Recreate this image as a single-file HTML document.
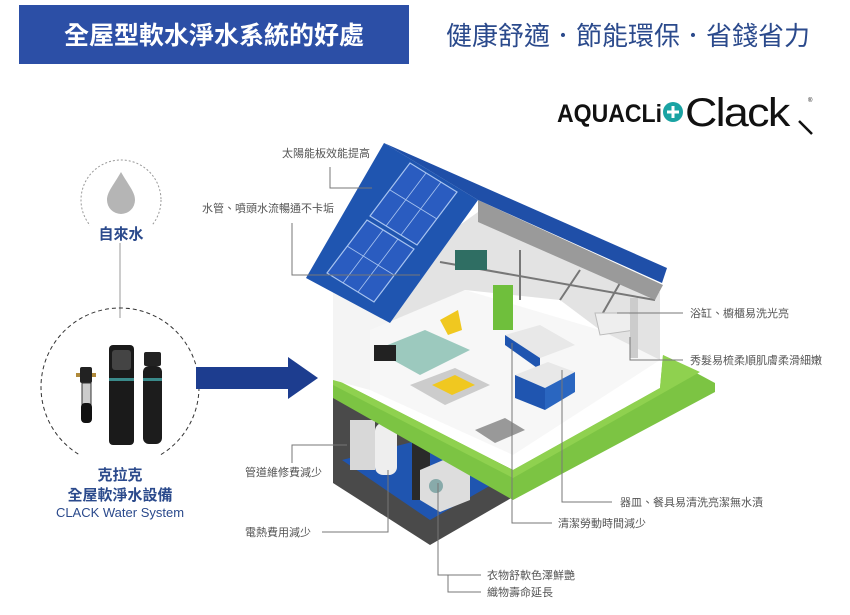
<!DOCTYPE html>
<html><head><meta charset="utf-8"><style>
html,body{margin:0;padding:0;background:#fff;}
svg{display:block;}
text{font-family:"Liberation Sans","Noto Sans CJK TC",sans-serif;}
.lb{font-size:11px;fill:#555;}
.ln{stroke:#777;stroke-width:1;fill:none;}
</style></head><body>
<svg width="850" height="615" viewBox="0 0 850 615" xmlns="http://www.w3.org/2000/svg">
<rect width="850" height="615" fill="#fff"/>
<!-- header -->
<rect x="19" y="5" width="390" height="59" fill="#2c4fa6"/>
<text x="214" y="44" text-anchor="middle" font-size="25" font-weight="bold" fill="#fff">全屋型軟水淨水系統的好處</text>
<text x="628" y="45" text-anchor="middle" font-size="26" fill="#2b4a8c">健康舒適．節能環保．省錢省力</text>
<!-- logo -->
<text x="557" y="122" font-size="25" font-weight="bold" fill="#111" textLength="105" lengthAdjust="spacingAndGlyphs">AQUACLi</text>
<circle cx="673" cy="112" r="10" fill="#1aa3a3"/>
<path d="M673 106v12M667 112h12" stroke="#fff" stroke-width="3"/>
<text transform="translate(685,126) scale(1.12,1)" x="0" y="0" font-size="40" fill="#111" letter-spacing="-1.5">Clack</text>
<path d="M799 121 L812 134" stroke="#111" stroke-width="2.5"/>
<text x="808" y="102" font-size="6" fill="#111">®</text>

<!-- left: tap water -->
<circle cx="121" cy="200" r="40" fill="none" stroke="#999" stroke-dasharray="2 2"/>
<rect x="90" y="222" width="62" height="22" fill="#fff"/>
<path d="M121 172 C113 186 107 192 107 200 a14 14 0 0 0 28 0 C135 192 129 186 121 172Z" fill="#b5b5b5"/>
<text x="121" y="239" text-anchor="middle" font-size="15" font-weight="bold" fill="#2b4a8c">自來水</text>
<line x1="120" y1="243" x2="120" y2="318" stroke="#999"/>
<circle cx="120" cy="387" r="79" fill="none" stroke="#333" stroke-dasharray="4 3"/>
<rect x="60" y="455" width="120" height="12" fill="#fff"/>
<rect x="76" y="373" width="20" height="4" fill="#b08a3a"/>
<rect x="80" y="367" width="12" height="16" rx="2" fill="#222"/>
<rect x="82" y="383" width="9" height="25" fill="#ccc" stroke="#333"/>
<rect x="81" y="403" width="11" height="20" rx="4" fill="#111"/>
<rect x="109" y="345" width="25" height="100" rx="4" fill="#1a1a1a"/>
<rect x="112" y="350" width="19" height="20" rx="3" fill="#444"/>
<rect x="109" y="378" width="25" height="3" fill="#3a8a8a"/>
<rect x="144" y="352" width="17" height="14" rx="2" fill="#222"/>
<rect x="143" y="366" width="19" height="78" rx="6" fill="#1c1c1c"/>
<rect x="143" y="378" width="19" height="3" fill="#3a8a8a"/>
<text x="120" y="480" text-anchor="middle" font-size="15" font-weight="bold" fill="#2b4a8c">克拉克</text>
<text x="120" y="500" text-anchor="middle" font-size="15" font-weight="bold" fill="#2b4a8c">全屋軟淨水設備</text>
<text x="120" y="517" text-anchor="middle" font-size="13" fill="#2b4a8c">CLACK Water System</text>
<!-- arrow -->
<path d="M196 367 H288 V357 L318 378 L288 399 V389 H196Z" fill="#1d3d8f"/>

<!-- basement -->
<polygon points="333,380 333,483 430,545 513,497 513,470" fill="#4a4a4a"/>
<polygon points="342,460 430,520 500,480 420,440" fill="#1f55b0"/>
<rect x="350" y="420" width="25" height="50" fill="#d8d8d8"/>
<rect x="375" y="423" width="22" height="52" rx="8" fill="#eee"/>
<rect x="412" y="440" width="18" height="60" fill="#2a2a2a"/>
<polygon points="420,470 455,455 470,470 470,500 440,512 420,500" fill="#ddd"/>
<circle cx="436" cy="486" r="7" fill="#8aa"/>
<!-- green platform -->
<polygon points="333,378 513,470 660,388 663,355 715,383 715,392 513,500 333,398" fill="#7cc443"/>
<polygon points="333,378 513,470 660,388 663,355 700,372 513,478 333,385" fill="#8fd14f"/>
<text x="620" y="410" font-size="14" fill="#fff" font-style="italic" transform="rotate(-30 620 410)">Clack</text>
<!-- interior walls -->
<polygon points="370,290 478,212 660,292 660,360 600,330 560,300 465,290 370,335" fill="#e3e3e3"/>
<g stroke="#777" stroke-width="2">
<line x1="440" y1="262" x2="655" y2="300"/>
<line x1="520" y1="250" x2="520" y2="300"/><line x1="580" y1="270" x2="560" y2="300"/><line x1="620" y1="283" x2="600" y2="318"/>
</g>
<polygon points="478,200 663,285 655,300 478,222" fill="#9a9a9a"/>
<polygon points="333,290 370,290 370,390 333,380" fill="#f4f4f4"/>
<polygon points="370,285 390,323 370,335" fill="#f4f4f4"/>
<!-- floor -->
<polygon points="370,330 465,290 600,330 660,360 513,455 370,390" fill="#f7f7f7"/>
<polygon points="375,350 425,330 470,350 420,375" fill="#9cc9be"/>
<rect x="374" y="345" width="22" height="16" fill="#222"/>
<polygon points="440,320 458,310 462,330 448,335" fill="#f0c820"/>
<polygon points="410,385 455,368 490,385 445,405" fill="#ccc"/>
<polygon points="432,385 455,375 475,385 452,395" fill="#f0c820"/>
<polygon points="475,430 505,418 525,430 495,443" fill="#999"/>
<rect x="493" y="285" width="20" height="45" fill="#6fbf3c"/>
<polygon points="505,335 540,325 575,345 540,358" fill="#e8e8e8"/>
<polygon points="505,335 540,358 540,370 505,345" fill="#1f55b0"/>
<polygon points="515,375 548,362 575,372 545,388" fill="#e8e8e8"/>
<polygon points="515,375 545,388 545,410 515,398" fill="#1f55b0"/>
<polygon points="545,388 575,372 575,392 545,410" fill="#2a66c0"/>
<polygon points="595,313 630,313 635,330 600,335" fill="#eee" stroke="#bbb"/>
<rect x="630" y="298" width="8" height="60" fill="#ccc"/>
<rect x="455" y="250" width="32" height="20" fill="#2f6e63"/>
<!-- roof -->
<polygon points="384,143 667,268 662,283 478,200" fill="#1f4fa8"/>
<polygon points="306,278 384,143 478,200 390,323" fill="#1f55b0"/>
<g stroke="#a8c4f0" stroke-width="1.2" fill="#2a5cc0">
<polygon points="327,273 367,220 414,249 374,302"/>
<polygon points="370,216 410,163 457,192 417,245"/>
</g>
<g stroke="#a8c4f0" stroke-width="0.8">
<line x1="347" y1="246" x2="394" y2="275"/><line x1="390" y1="190" x2="437" y2="219"/>
<line x1="343" y1="283" x2="383" y2="230"/><line x1="358" y1="292" x2="398" y2="239"/>
<line x1="386" y1="226" x2="426" y2="173"/><line x1="401" y1="235" x2="441" y2="182"/>
</g>

<!-- labels -->
<text class="lb" x="282" y="157">太陽能板效能提高</text>
<polyline class="ln" points="330,167 330,188 372,188"/>
<text class="lb" x="202" y="212">水管、噴頭水流暢通不卡垢</text>
<polyline class="ln" points="292,223 292,275 420,275"/>
<text class="lb" x="690" y="317">浴缸、櫥櫃易洗光亮</text>
<polyline class="ln" points="617,313 683,313"/>
<text class="lb" x="690" y="364">秀髮易梳柔順肌膚柔滑細嫩</text>
<polyline class="ln" points="630,337 630,360 683,360"/>
<text class="lb" x="620" y="506">器皿、餐具易清洗亮潔無水漬</text>
<polyline class="ln" points="562,370 562,502 612,502"/>
<text class="lb" x="558" y="527">清潔勞動時間減少</text>
<polyline class="ln" points="512,343 512,523 552,523"/>
<text class="lb" x="245" y="476">管道維修費減少</text>
<polyline class="ln" points="292,463 292,445 347,445"/>
<text class="lb" x="245" y="536">電熱費用減少</text>
<polyline class="ln" points="322,532 388,532 388,470"/>
<text class="lb" x="487" y="579">衣物舒軟色澤鮮艷</text>
<text class="lb" x="487" y="596">織物壽命延長</text>
<polyline class="ln" points="438,483 438,575 481,575"/>
<polyline class="ln" points="448,575 448,592 481,592"/>
</svg>
</body></html>
